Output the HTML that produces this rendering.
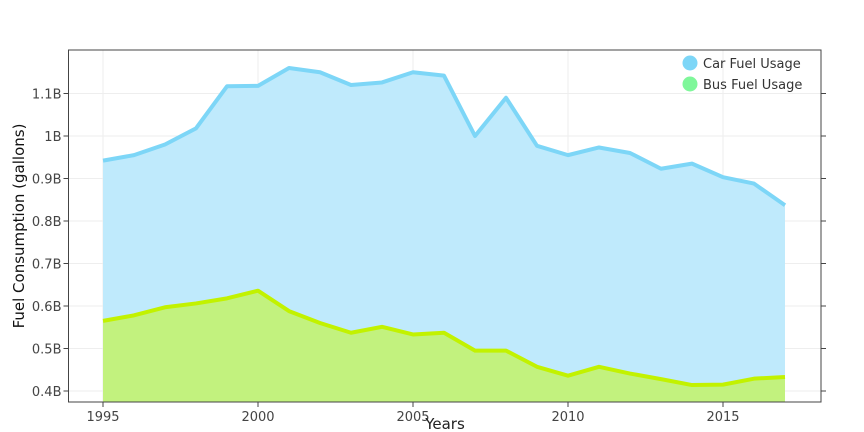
<!DOCTYPE html>
<html><head><meta charset="utf-8"><style>
body{margin:0;background:#fff;}
svg{display:block;font-family:"DejaVu Sans","Liberation Sans",sans-serif;}
</style></head><body>
<svg id="chart" width="864" height="432"></svg>
<script>
const years=[1995,1996,1997,1998,1999,2000,2001,2002,2003,2004,2005,2006,2007,2008,2009,2010,2011,2012,2013,2014,2015,2016,2017];
const carFuel=[0.942,0.955,0.980,1.018,1.117,1.118,1.160,1.150,1.120,1.126,1.150,1.142,1.000,1.090,0.977,0.955,0.973,0.960,0.923,0.935,0.903,0.888,0.837];
const busFuel=[0.565,0.578,0.597,0.606,0.618,0.636,0.588,0.560,0.537,0.551,0.533,0.537,0.495,0.495,0.457,0.436,0.457,0.441,0.428,0.414,0.415,0.429,0.433];
const yTicks=[0.4,0.5,0.6,0.7,0.8,0.9,1.0,1.1];
const yTickLabels=["0.4B","0.5B","0.6B","0.7B","0.8B","0.9B","1B","1.1B"];
const xTicks=[1995,2000,2005,2010,2015];

const svg=document.getElementById('chart');
const NS='http://www.w3.org/2000/svg';
const L=68.5,R=821,T=50,B=402;
const x=v=>103+(v-1995)*31;
const y=v=>391-(v-0.4)*425;
function el(tag,attrs,parent){const e=document.createElementNS(NS,tag);for(const k in attrs)e.setAttribute(k,attrs[k]);(parent||svg).appendChild(e);return e;}

const grid=el('g',{});


yTicks.forEach(v=>el('line',{x1:L,x2:R,y1:y(v),y2:y(v),stroke:'#eee','stroke-width':1},grid));
xTicks.forEach(v=>el('line',{x1:x(v),x2:x(v),y1:T,y2:B,stroke:'#eee','stroke-width':1},grid));

function areaPath(vals){let d='M'+x(years[0])+','+B;vals.forEach((v,i)=>d+=' L'+x(years[i])+','+y(v));d+=' L'+x(years[years.length-1])+','+B+' Z';return d;}
function linePath(vals){return vals.map((v,i)=>(i?'L':'M')+x(years[i])+','+y(v)).join(' ');}

const carArea=el('path',{d:areaPath(carFuel),fill:'#bfeafc'});


const busArea=el('path',{d:areaPath(busFuel),fill:'#c2f27e'});


const carLine=el('path',{d:linePath(carFuel),fill:'none',stroke:'#7dd6f7','stroke-width':4,'stroke-linejoin':'round'});


const busLine=el('path',{d:linePath(busFuel),fill:'none',stroke:'#c2f200','stroke-width':4,'stroke-linejoin':'round'});



const frame=el('rect',{x:L,y:T,width:R-L,height:B-T,fill:'none',stroke:'#444','stroke-width':1});



yTicks.forEach((v,i)=>{
  el('line',{x1:L-5,x2:L,y1:y(v),y2:y(v),stroke:'#444'});
  el('line',{x1:R,x2:R+5,y1:y(v),y2:y(v),stroke:'#444'});
  const t=el('text',{x:L-7,y:y(v)+5,'text-anchor':'end','font-size':13,fill:'#444'});
  t.textContent=yTickLabels[i];
  
  
});
xTicks.forEach(v=>{
  el('line',{x1:x(v),x2:x(v),y1:B,y2:B+5,stroke:'#444'});
  const t=el('text',{x:x(v),y:B+19,'text-anchor':'middle','font-size':13,fill:'#444'});
  t.textContent=v;
  
  
});
const xt=el('text',{x:445,y:429,'text-anchor':'middle','font-size':15,fill:'#222'});
xt.textContent='Years';


const yt=el('text',{x:0,y:0,'text-anchor':'middle','font-size':15,fill:'#111',transform:'translate(24,226) rotate(-90)'});
yt.textContent='Fuel Consumption (gallons)';



const leg=[['Car Fuel Usage','#7dd6f7',63,'legend-entry-car'],['Bus Fuel Usage','#7ff79a',84,'legend-entry-bus']];
leg.forEach(l=>{
  const g=el('g',{});
  
  
  el('circle',{cx:690,cy:l[2],r:7.5,fill:l[1]},g);
  const t=el('text',{x:703,y:l[2]+5,'font-size':13,fill:'#333'},g);
  t.textContent=l[0];
});
</script>
</body></html>
